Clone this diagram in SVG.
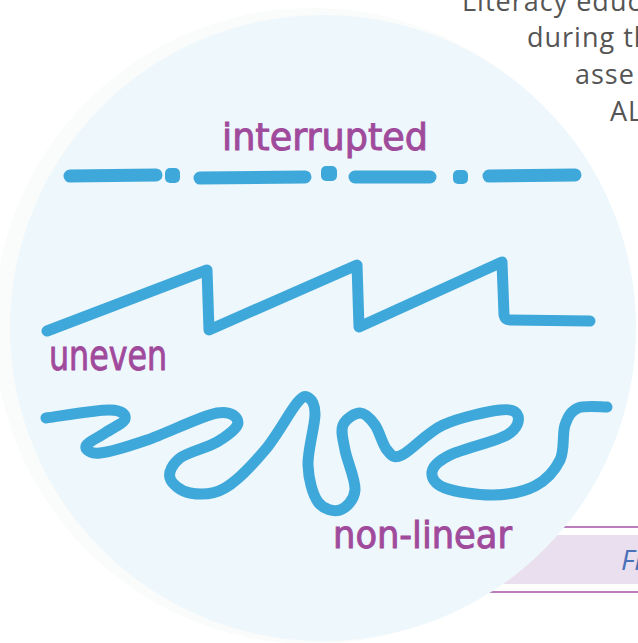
<svg xmlns="http://www.w3.org/2000/svg" width="638" height="643" viewBox="0 0 638 643">
  <style>
    .ink { fill: none; stroke: #3fa8da; stroke-width: 11; stroke-linecap: round; stroke-linejoin: round; }
    .dash { fill: none; stroke: #3fa8da; stroke-width: 13; stroke-linecap: round; }
    .dot { fill: #3fa8da; }
    .label { fill: #a04a9c; stroke: #a04a9c; stroke-width: 0.9; font-family: "DejaVu Sans Condensed", "DejaVu Sans", sans-serif; }
    .body { fill: #555555; font-family: "Open Sans", "Liberation Sans", sans-serif; font-size: 27px; letter-spacing: 1px; }
    .rule { stroke: #a552a6; stroke-width: 1.6; }
  </style>
  <rect width="638" height="643" fill="#ffffff"/>

  <g id="caption-box">
    <rect x="470" y="535" width="168" height="49" fill="#eadfee"/>
    <line class="rule" x1="560" y1="527" x2="638" y2="527"/>
    <line class="rule" x1="480" y1="592" x2="638" y2="592"/>
    <text x="621" y="570" font-family="Open Sans, Liberation Sans, sans-serif" font-style="italic" font-size="28" fill="#4a72b8">Fi</text>
  </g>

  <g id="circle">
    <circle cx="312" cy="326" r="318" fill="#fafbfb"/>
    <circle cx="323" cy="328" r="313" fill="#eef7fb"/>
  </g>

  <g id="body-text">
    <text class="body" x="462" y="11">Literacy educ</text>
    <text class="body" x="527" y="47">during th</text>
    <text class="body" x="575" y="84">asse</text>
    <text class="body" x="610" y="121">AL</text>
  </g>

  <g id="connectors">
    <g id="interrupted-line">
      <line class="dash" x1="70" y1="176" x2="156" y2="175"/>
      <rect class="dot" x="165" y="168" width="15" height="15" rx="5"/>
      <line class="dash" x1="200" y1="178" x2="305" y2="177"/>
      <rect class="dot" x="321" y="166" width="16" height="15" rx="5"/>
      <line class="dash" x1="355" y1="177" x2="430" y2="177"/>
      <rect class="dot" x="453" y="170" width="15" height="14" rx="5"/>
      <line class="dash" x1="489" y1="176" x2="575" y2="175"/>
    </g>
    <path id="uneven-line" class="ink" d="M47,331 L207,270 L209,330 L357,265 L359,327 L502,262 L504,315 Q505,320 510,320 L590,321"/>
    <path id="nonlinear-line" class="ink" d="M46,418 C56.7,416.7 96.8,409.8 110,410 S125.8,415.2 125,419 S111.5,428.5 105,433 S86.8,442.7 86,446 S89.8,454 100,453 S127.5,446.7 147,440 S201.8,415.8 217,413 S238,418.2 238,423 S226.7,436.2 217,442 S187.8,452 180,458 S168.3,472.2 170,478 S180.8,491.3 190,493 S212.5,495.2 225,488 S253,464.2 265,450 S289.7,411.7 297,403 S306,396 309,398 S315.2,403.8 315,415 S307.5,450.5 308,465 S312.7,494.5 318,502 S333.8,512 340,510 S354.2,500 355,490 S347,460.8 345,450 S340.5,431.2 343,425 S354.7,413 360,413 S370.5,418.8 375,425 S382.5,445 387,450 S392.7,459.2 402,455 S426.7,432.5 443,425 S487.5,411.5 500,410 S516.8,411.8 518,416 S518.3,428.5 507,435 S462.5,448.8 450,455 S432.8,466.5 432,472 S434.8,484.2 445,488 S478,495.3 493,495 S523.8,491.8 535,486 S555,470.2 560,460 S562,433.7 565,425 S571,411 578,408 S602.2,407.2 607,407"/>
  </g>

  <g id="label-interrupted">
    <text class="label" x="222" y="150" font-size="38" textLength="206" lengthAdjust="spacingAndGlyphs">interrupted</text>
  </g>
  <g id="label-uneven">
    <text class="label" x="49" y="370" font-size="42" textLength="118" lengthAdjust="spacingAndGlyphs">uneven</text>
  </g>
  <g id="label-nonlinear">
    <text class="label" x="333" y="548" font-size="38" textLength="179" lengthAdjust="spacingAndGlyphs">non-linear</text>
  </g>
</svg>
